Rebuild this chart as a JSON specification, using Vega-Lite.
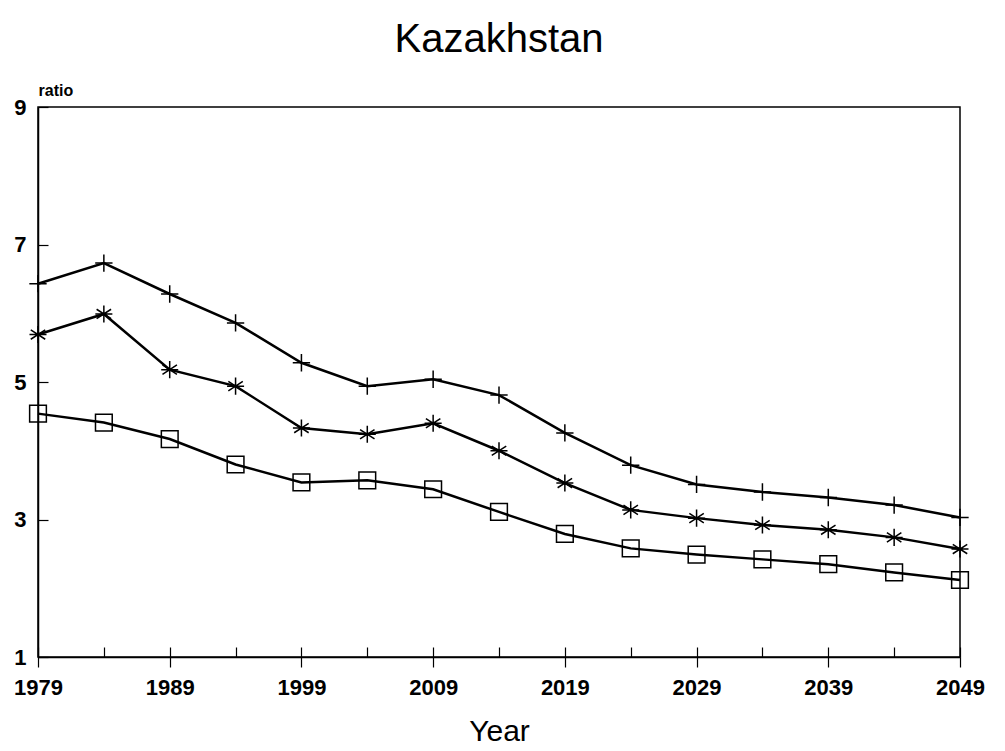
{
  "$schema": "https://vega.github.io/schema/vega-lite/v6.json",
  "width": 922,
  "height": 550,
  "autosize": "none",
  "padding": {"left": 38, "top": 107, "right": 45, "bottom": 94},
  "background": "white",
  "title": {"text": "Kazakhstan", "font": "Liberation Sans", "fontSize": 40, "fontWeight": "normal", "color": "black", "anchor": "middle", "offset": 22},
  "config": {
    "view": {"stroke": "black", "strokeWidth": 1.5},
    "font": "Liberation Sans",
    "axis": {"domainColor": "black", "tickColor": "black", "labelColor": "black", "titleColor": "black", "grid": false}
  },
  "data": {"values": [
    {"year": 1979, "series": "plus", "value": 6.43},
    {"year": 1984, "series": "plus", "value": 6.73},
    {"year": 1989, "series": "plus", "value": 6.28},
    {"year": 1994, "series": "plus", "value": 5.86},
    {"year": 1999, "series": "plus", "value": 5.28},
    {"year": 2004, "series": "plus", "value": 4.94},
    {"year": 2009, "series": "plus", "value": 5.04},
    {"year": 2014, "series": "plus", "value": 4.81},
    {"year": 2019, "series": "plus", "value": 4.26},
    {"year": 2024, "series": "plus", "value": 3.79},
    {"year": 2029, "series": "plus", "value": 3.51},
    {"year": 2034, "series": "plus", "value": 3.40},
    {"year": 2039, "series": "plus", "value": 3.32},
    {"year": 2044, "series": "plus", "value": 3.21},
    {"year": 2049, "series": "plus", "value": 3.03},
    {"year": 1979, "series": "asterisk", "value": 5.69},
    {"year": 1984, "series": "asterisk", "value": 5.99},
    {"year": 1989, "series": "asterisk", "value": 5.18},
    {"year": 1994, "series": "asterisk", "value": 4.94},
    {"year": 1999, "series": "asterisk", "value": 4.33},
    {"year": 2004, "series": "asterisk", "value": 4.24},
    {"year": 2009, "series": "asterisk", "value": 4.40},
    {"year": 2014, "series": "asterisk", "value": 4.00},
    {"year": 2019, "series": "asterisk", "value": 3.53},
    {"year": 2024, "series": "asterisk", "value": 3.14},
    {"year": 2029, "series": "asterisk", "value": 3.02},
    {"year": 2034, "series": "asterisk", "value": 2.92},
    {"year": 2039, "series": "asterisk", "value": 2.85},
    {"year": 2044, "series": "asterisk", "value": 2.74},
    {"year": 2049, "series": "asterisk", "value": 2.57},
    {"year": 1979, "series": "square", "value": 4.54},
    {"year": 1984, "series": "square", "value": 4.41},
    {"year": 1989, "series": "square", "value": 4.17},
    {"year": 1994, "series": "square", "value": 3.80},
    {"year": 1999, "series": "square", "value": 3.54},
    {"year": 2004, "series": "square", "value": 3.57},
    {"year": 2009, "series": "square", "value": 3.44},
    {"year": 2014, "series": "square", "value": 3.11},
    {"year": 2019, "series": "square", "value": 2.79},
    {"year": 2024, "series": "square", "value": 2.58},
    {"year": 2029, "series": "square", "value": 2.49},
    {"year": 2034, "series": "square", "value": 2.42},
    {"year": 2039, "series": "square", "value": 2.35},
    {"year": 2044, "series": "square", "value": 2.23},
    {"year": 2049, "series": "square", "value": 2.12}
  ]},
  "layer": [
    {
      "mark": {"type": "line", "color": "black", "strokeWidth": 2.5},
      "encoding": {
        "x": {"field": "year", "type": "quantitative",
          "scale": {"domain": [1979, 2049], "nice": false, "zero": false},
          "axis": {"orient": "bottom", "values": [1979, 1989, 1999, 2009, 2019, 2029, 2039, 2049], "format": "d", "tickSize": 10, "tickWidth": 1.2,
            "labelFontSize": 22, "labelFontWeight": "bold", "labelPadding": 10, "labelFlush": false,
            "title": "Year", "titleFontSize": 30, "titleFontWeight": "normal", "titlePadding": 18, "domainWidth": 1.5}},
        "y": {"field": "value", "type": "quantitative",
          "scale": {"domain": [1, 9], "nice": false, "zero": false},
          "axis": {"orient": "left", "values": [1, 3, 5, 7, 9], "ticks": false, "labelFontSize": 22, "labelFontWeight": "bold", "labelPadding": 12,
            "title": "ratio", "titleAngle": 0, "titleAlign": "left", "titleBaseline": "alphabetic", "titleX": 0, "titleY": -12,
            "titleFontSize": 16, "titleFontWeight": "bold", "domainWidth": 1.5}},
        "detail": {"field": "series", "type": "nominal"}
      }
    },
    {
      "mark": {"type": "point", "filled": false, "stroke": "black", "strokeWidth": 1.5, "opacity": 1},
      "encoding": {
        "x": {"field": "year", "type": "quantitative",
          "axis": {"orient": "bottom", "values": [1979, 1984, 1989, 1994, 1999, 2004, 2009, 2014, 2019, 2024, 2029, 2034, 2039, 2044, 2049], "tickSize": -10, "tickWidth": 1.2, "labels": false, "domain": false, "title": null}},
        "y": {"field": "value", "type": "quantitative",
          "axis": {"orient": "left", "values": [1, 3, 5, 7, 9], "tickSize": -10, "tickWidth": 1.2, "labels": false, "domain": false, "title": null}},
        "shape": {"field": "series", "type": "nominal", "legend": null,
          "scale": {"domain": ["plus", "asterisk", "square"],
            "range": ["M-1,0L1,0M0,-1L0,1", "M0,-1L0,1M-0.85,-0.55L0.85,0.55M-0.85,0.55L0.85,-0.55M-1,0L1,0", "square"]}},
        "size": {"field": "series", "type": "nominal", "legend": null,
          "scale": {"domain": ["plus", "asterisk", "square"], "range": [300, 280, 170]}}
      }
    }
  ],
  "resolve": {"axis": {"x": "independent", "y": "independent"}}
}
